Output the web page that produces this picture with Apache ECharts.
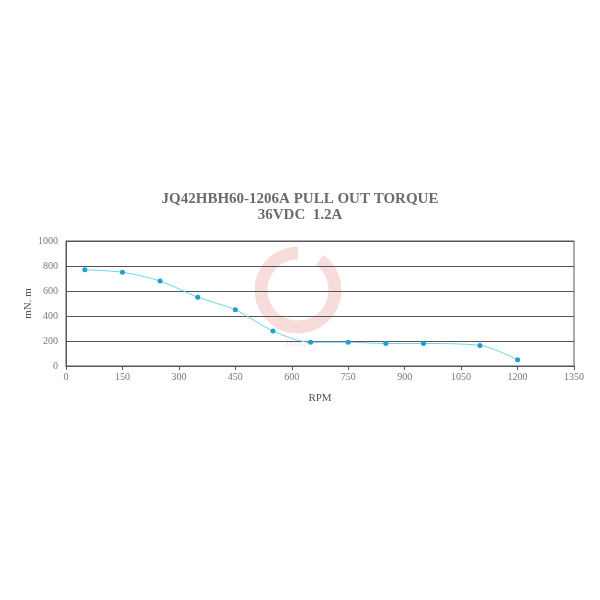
<!DOCTYPE html>
<html><head><meta charset="utf-8">
<script src="https://cdn.jsdelivr.net/npm/echarts@6/dist/echarts.min.js"></script>
<style>html,body{margin:0;padding:0;background:#fff}#c{width:600px;height:600px}</style>
</head><body><div id="c"></div>
<script>
const titleLines = ['JQ42HBH60-1206A PULL OUT TORQUE', '36VDC  1.2A'];
const rpm = [50, 150, 250, 350, 450, 550, 650, 750, 850, 950, 1100, 1200];
const torque = [770, 750, 680, 550, 450, 280, 190, 190, 180, 180, 165, 50];
const xName = 'RPM';
const yName = 'mN. m';

const chart = echarts.init(document.getElementById('c'));
const serif = '"Liberation Serif", "Times New Roman", serif';
chart.setOption({
  animation: false,
  title: {
    text: titleLines.join('\n'),
    left: 'center', top: 186,
    textStyle: { fontFamily: serif, fontWeight: 'bold', fontSize: 15, color: '#6b6b6b', lineHeight: 16 }
  },
  graphic: [
    { type: 'arc', z: 0, shape: { cx: 298, cy: 290, r: 37, startAngle: -Math.PI*0.3, endAngle: Math.PI*1.5 },
      style: { stroke: '#f7dcdc', lineWidth: 13, fill: null } },
    { type: 'text', z: 0, left: 284, top: 338, style: { text: 'JunQ', fill: '#f3e2e2', font: 'italic 11px ' + serif } }
  ],
  grid: { left: 66, right: 26, top: 241, bottom: 234, show: true, borderColor: '#555', borderWidth: 1 },
  xAxis: {
    type: 'value', min: 0, max: 1350, interval: 150,
    name: xName, nameLocation: 'middle', nameGap: 27, nameMoveOverlap: false,
    nameTextStyle: { fontFamily: serif, fontSize: 11, color: '#555' },
    axisLine: { show: true, lineStyle: { color: '#555' } },
    axisTick: { show: true, length: 4, lineStyle: { color: '#555' } },
    axisLabel: { fontFamily: serif, fontSize: 10, color: '#777', margin: 6, formatter: v => String(v) },
    splitLine: { show: false }
  },
  yAxis: {
    type: 'value', min: 0, max: 1000, interval: 200,
    name: yName, nameLocation: 'middle', nameGap: 32, nameRotate: 90, nameMoveOverlap: false,
    nameTextStyle: { fontFamily: serif, fontSize: 11, color: '#555' },
    axisLine: { show: true, lineStyle: { color: '#555' } },
    axisTick: { show: true, inside: true, length: 3, lineStyle: { color: '#555' } },
    axisLabel: { fontFamily: serif, fontSize: 10, color: '#777', margin: 8, formatter: v => String(v) },
    splitLine: { show: true, lineStyle: { color: '#555', width: 1 } }
  },
  series: [{
    type: 'line', z: 5,
    data: rpm.map((x, i) => [x, torque[i]]),
    smooth: 0.3,
    symbol: 'circle', symbolSize: 5,
    lineStyle: { color: '#6cd4e6', width: 1 },
    itemStyle: { color: '#1e9fd0' }
  }]
});
</script></body></html>
